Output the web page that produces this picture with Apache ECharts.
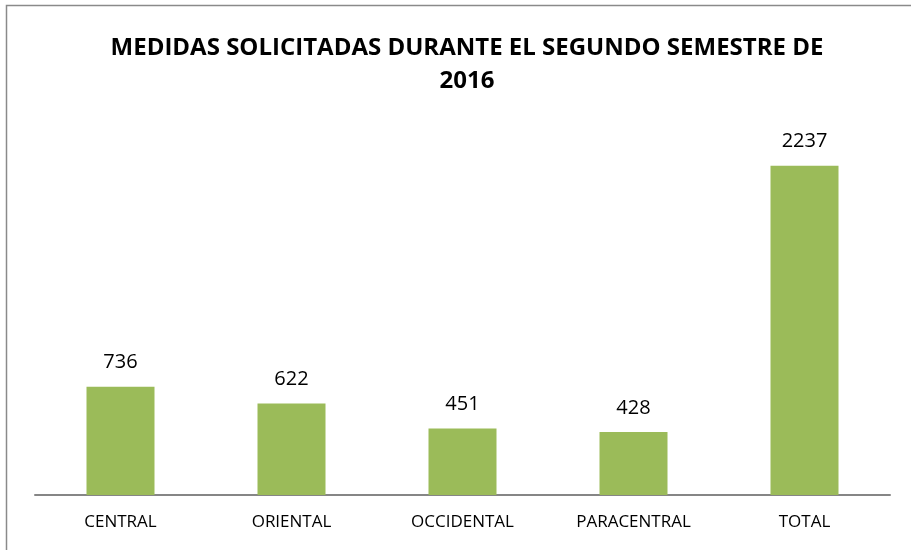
<!DOCTYPE html>
<html>
<head>
<meta charset="utf-8">
<script src="https://cdn.jsdelivr.net/npm/echarts@6/dist/echarts.min.js"></script>
<style>
  html, body { margin: 0; padding: 0; background: #fff; }
  #main { width: 911px; height: 550px; }
</style>
</head>
<body>
<div id="main"></div>
<script>
// datos
var categories = ['CENTRAL', 'ORIENTAL', 'OCCIDENTAL', 'PARACENTRAL', 'TOTAL'];
var medidas = [736, 622, 451, 428, 2237];

var chart = echarts.init(document.getElementById('main'));

var option = {
  animation: false,
  textStyle: { fontFamily: 'Open Sans, Liberation Sans, sans-serif' },
  graphic: [
    {
      type: 'rect',
      shape: { x: 6.5, y: 5.5, width: 920, height: 560 },
      style: { fill: 'none', stroke: '#8a8a8a', lineWidth: 1.5 },
      silent: true
    }
  ],
  title: {
    text: 'MEDIDAS SOLICITADAS DURANTE EL SEGUNDO SEMESTRE DE\n2016',
    left: 462,
    textAlign: 'center',
    top: 27,
    textStyle: {
      fontSize: 24,
      fontWeight: 'bold',
      color: '#000',
      lineHeight: 33,
      fontFamily: 'Open Sans, Liberation Sans, sans-serif'
    }
  },
  grid: { left: 35, right: 21, top: 127, bottom: 55 },
  xAxis: {
    type: 'category',
    data: categories,
    axisLine: { lineStyle: { color: '#868686', width: 2 } },
    axisTick: { show: false },
    axisLabel: { color: '#000', fontSize: 17, margin: 19 }
  },
  yAxis: {
    type: 'value',
    min: 0,
    max: 2500,
    show: false,
    splitLine: { show: false }
  },
  series: [
    {
      type: 'bar',
      data: medidas,
      barWidth: 68,
      itemStyle: { color: '#9bbb59' },
      label: {
        show: true,
        position: 'top',
        distance: 14,
        color: '#000',
        fontSize: 20
      }
    }
  ]
};

chart.setOption(option);
</script>
</body>
</html>
